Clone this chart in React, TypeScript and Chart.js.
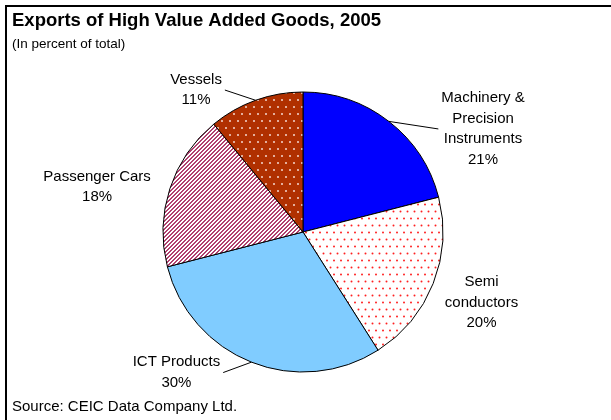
import React, { useEffect, useRef } from 'react';
import { Chart, registerables } from 'chart.js';

Chart.register(...registerables);

// ---- data ----
const categories = ['Machinery & Precision Instruments', 'Semi conductors', 'ICT Products', 'Passenger Cars', 'Vessels'];
const labelLines = [['Machinery &', 'Precision', 'Instruments'], ['Semi', 'conductors'], ['ICT Products'], ['Passenger Cars'], ['Vessels']];
const shares = [21, 20, 30, 18, 11];
const titleText = 'Exports of High Value Added Goods, 2005';
const subtitleText = '(In percent of total)';
const sourceText = 'Source: CEIC Data Company Ltd.';

// ---- layout of labels (relative to pie centre, in radius units) ----
const labelPlacement = [
  { dx: 1.286, dy: -0.736, leader: 'left' },
  { dx: 1.275, dy: 0.504, leader: '' },
  { dx: -0.904, dy: 1.004, leader: 'right' },
  { dx: -1.471, dy: -0.321, leader: '' },
  { dx: -0.764, dy: -1.014, leader: 'right' },
];

const FONT = '"Liberation Sans", Arial, Helvetica, sans-serif';

function makeDots(bg: string, fg: string, w: number, h: number, dots: number[][], r: number): CanvasPattern | string {
  const c = document.createElement('canvas');
  c.width = w;
  c.height = h;
  const ctx = c.getContext('2d');
  if (!ctx) return bg;
  if (bg) {
    ctx.fillStyle = bg;
    ctx.fillRect(0, 0, w, h);
  }
  ctx.fillStyle = fg;
  for (const [x, y] of dots) {
    ctx.beginPath();
    ctx.arc(x, y, r, 0, Math.PI * 2);
    ctx.fill();
  }
  const p = ctx.createPattern(c, 'repeat');
  return p || bg;
}

function makeStripes(bg: string, fg: string, period: number, on: number): CanvasPattern | string {
  const c = document.createElement('canvas');
  c.width = period;
  c.height = period;
  const ctx = c.getContext('2d');
  if (!ctx) return fg;
  ctx.fillStyle = bg;
  ctx.fillRect(0, 0, period, period);
  ctx.fillStyle = fg;
  for (let y = 0; y < period; y++) {
    for (let x = 0; x < period; x++) {
      if ((x + y) % period < on) ctx.fillRect(x, y, 1, 1);
    }
  }
  const p = ctx.createPattern(c, 'repeat');
  return p || fg;
}

const overlayPlugin = {
  id: 'overlay',
  afterDraw(chart: any) {
    const ctx: CanvasRenderingContext2D = chart.ctx;
    ctx.save();
    // frame
    ctx.fillStyle = '#000';
    ctx.fillRect(5, 5, chart.width - 5, 2);
    ctx.fillRect(5, 5, 2, chart.height - 5);
    // titles
    ctx.textAlign = 'left';
    ctx.textBaseline = 'alphabetic';
    ctx.font = `bold 18.5px ${FONT}`;
    ctx.fillText(titleText, 12, 26);
    ctx.font = `13.5px ${FONT}`;
    ctx.fillText(subtitleText, 12, 48);
    ctx.font = `15px ${FONT}`;
    ctx.fillText(sourceText, 12, 411);

    // labels
    const meta = chart.getDatasetMeta(0);
    const lineH = 20.5;
    ctx.font = `15px ${FONT}`;
    meta.data.forEach((arc: any, i: number) => {
      const { x, y, startAngle, endAngle, outerRadius } = arc.getProps(['x', 'y', 'startAngle', 'endAngle', 'outerRadius'], true);
      const pl = labelPlacement[i];
      const lines = [...labelLines[i], `${shares[i]}%`];
      const cx = x + pl.dx * outerRadius;
      const cy = y + pl.dy * outerRadius;
      const maxW = Math.max(...lines.map((l) => ctx.measureText(l).width));
      if (pl.leader) {
        const mid = (startAngle + endAngle) / 2;
        const ex = x + outerRadius * Math.cos(mid);
        const ey = y + outerRadius * Math.sin(mid);
        const ax = pl.leader === 'left' ? cx - maxW / 2 - 3 : cx + maxW / 2 + 3;
        const ay = cy;
        ctx.strokeStyle = '#000';
        ctx.lineWidth = 1;
        ctx.beginPath();
        ctx.moveTo(ex, ey);
        ctx.lineTo(ax, ay);
        ctx.stroke();
      }
      ctx.fillStyle = '#000';
      ctx.textAlign = 'center';
      ctx.textBaseline = 'middle';
      const top = cy - ((lines.length - 1) * lineH) / 2;
      lines.forEach((l, k) => ctx.fillText(l, cx, top + k * lineH));
    });
    ctx.restore();
  },
};

export default function App() {
  const ref = useRef<HTMLCanvasElement | null>(null);
  useEffect(() => {
    const canvas = ref.current;
    if (!canvas) return;
    const fills = [
      '#0000FF',
      makeDots('#FFFFFF', '#FF2020', 7, 14, [[1.5, 1.5], [5, 8.5]], 1),
      '#80CCFF',
      makeStripes('#FFFFFF', '#B0406F', 4, 2),
      makeDots('#B03000', '#F4D8D0', 8, 14, [[2, 2], [6, 9]], 1),
    ];
    const chart = new Chart(canvas, {
      type: 'pie',
      data: {
        labels: categories,
        datasets: [
          {
            data: shares,
            backgroundColor: fills as any,
            borderColor: '#000',
            borderWidth: 1,
          },
        ],
      },
      options: {
        responsive: false,
        animation: false,
        events: [],
        radius: 140,
        layout: { padding: { left: 100, right: 105, top: 92, bottom: 48 } },
        plugins: {
          legend: { display: false },
          tooltip: { enabled: false },
          title: { display: false },
        },
      } as any,
      plugins: [overlayPlugin],
    });
    return () => chart.destroy();
  }, []);
  return (
    <div style={{ position: 'fixed', left: 0, top: 0, width: 611, height: 420, background: '#fff' }}>
      <canvas ref={ref} width={611} height={420} style={{ display: 'block' }} />
    </div>
  );
}
